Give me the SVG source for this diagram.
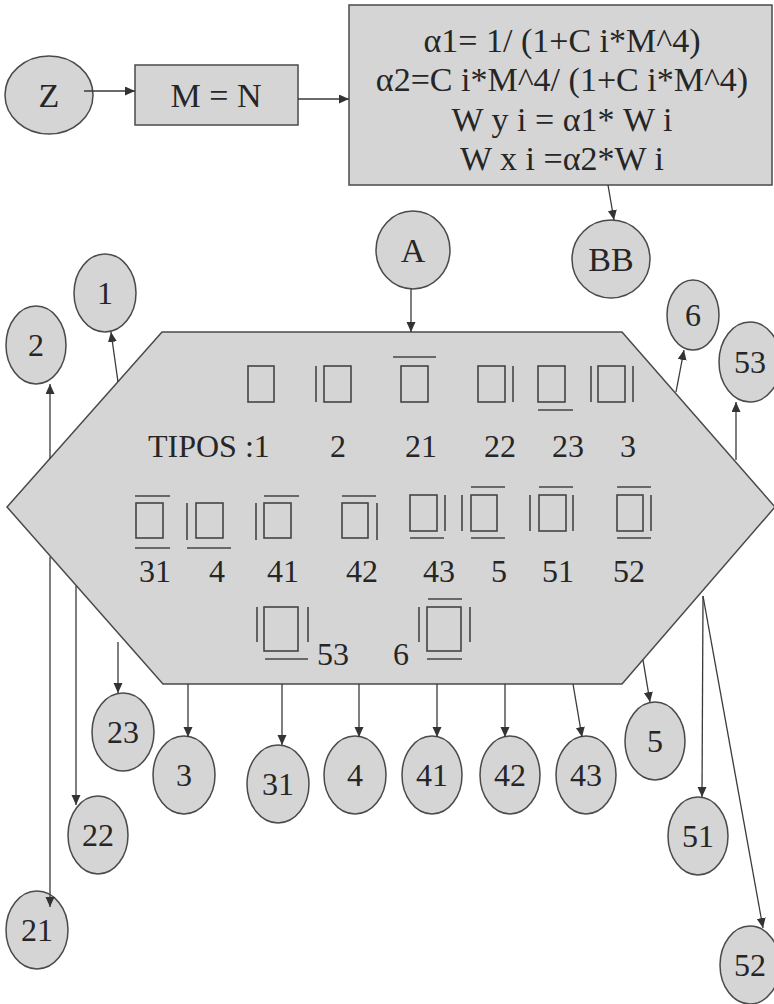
<svg xmlns="http://www.w3.org/2000/svg" width="774" height="1004" viewBox="0 0 774 1004">
<defs>
<marker id="ah" markerUnits="userSpaceOnUse" markerWidth="11" markerHeight="10" refX="10" refY="4.5" orient="auto">
<path d="M0,0 L10,4.5 L0,9 z" fill="#333"/>
</marker>
<style>
.nd{fill:#d5d5d5;stroke:#4a4a4a;stroke-width:1.5}
.t{font-family:"Liberation Serif","Times New Roman",serif;fill:#262626;text-anchor:middle}
.c{font-size:32px}
.b{font-size:34px}
.sym{fill:none;stroke:#444;stroke-width:1.6}
.cn line{stroke:#3a3a3a;stroke-width:1.3;marker-end:url(#ah)}
</style>
</defs>
<rect width="774" height="1004" fill="#fff"/>

<g id="hex">
<polygon class="nd" points="162,332 622,332 775,507 622,684 163,684 7,507"/>
<g class="sym">
<!-- row 1 -->
<rect x="248" y="366" width="26" height="36"/>
<line x1="316" y1="366" x2="316" y2="402"/><rect x="324" y="366" width="27" height="36"/>
<line x1="393" y1="357" x2="436" y2="357"/><rect x="401" y="366" width="27" height="36"/>
<rect x="478" y="366" width="27" height="36"/><line x1="513" y1="366" x2="513" y2="402"/>
<rect x="538" y="366" width="27" height="36"/><line x1="538" y1="410" x2="573" y2="410"/>
<line x1="591" y1="366" x2="591" y2="402"/><rect x="598" y="366" width="27" height="36"/><line x1="633" y1="366" x2="633" y2="402"/>
<!-- row 2 -->
<line x1="135" y1="496" x2="170" y2="496"/><rect x="136" y="503" width="27" height="35"/><line x1="135" y1="548" x2="170" y2="548"/>
<line x1="187" y1="503" x2="187" y2="540"/><rect x="196" y="503" width="27" height="35"/><line x1="187" y1="548" x2="231" y2="548"/>
<line x1="256" y1="503" x2="256" y2="540"/><line x1="264" y1="496" x2="299" y2="496"/><rect x="264" y="503" width="27" height="35"/>
<line x1="342" y1="496" x2="376" y2="496"/><rect x="342" y="503" width="26" height="35"/><line x1="377" y1="503" x2="377" y2="540"/>
<rect x="410" y="495" width="27" height="36"/><line x1="445" y1="495" x2="445" y2="531"/><line x1="410" y1="538" x2="444" y2="538"/>
<line x1="462" y1="495" x2="462" y2="531"/><line x1="471" y1="487" x2="505" y2="487"/><rect x="471" y="495" width="26" height="36"/><line x1="471" y1="538" x2="505" y2="538"/>
<line x1="530" y1="495" x2="530" y2="531"/><line x1="539" y1="487" x2="573" y2="487"/><rect x="539" y="495" width="27" height="36"/><line x1="573" y1="495" x2="573" y2="531"/>
<line x1="617" y1="487" x2="651" y2="487"/><rect x="617" y="495" width="26" height="36"/><line x1="651" y1="495" x2="651" y2="531"/><line x1="617" y1="538" x2="651" y2="538"/>
<!-- row 3 -->
<line x1="257" y1="607" x2="257" y2="642"/><rect x="264" y="607" width="34" height="44"/><line x1="308" y1="607" x2="308" y2="642"/><line x1="265" y1="659" x2="308" y2="659"/>
<line x1="419" y1="607" x2="419" y2="642"/><line x1="428" y1="599" x2="462" y2="599"/><rect x="427" y="607" width="34" height="44"/><line x1="470" y1="607" x2="470" y2="642"/><line x1="427" y1="659" x2="462" y2="659"/>
</g>
<g class="t c">
<text x="148" y="457" text-anchor="start">TIPOS :1</text>
<text x="338" y="457">2</text>
<text x="421" y="457">21</text>
<text x="500" y="457">22</text>
<text x="568" y="457">23</text>
<text x="628" y="457">3</text>
<text x="155" y="582">31</text>
<text x="217" y="582">4</text>
<text x="283" y="582">41</text>
<text x="362" y="582">42</text>
<text x="439" y="582">43</text>
<text x="499" y="582">5</text>
<text x="558" y="582">51</text>
<text x="629" y="582">52</text>
<text x="333" y="665">53</text>
<text x="401" y="665">6</text>
</g>
</g>

<g id="Z"><ellipse class="nd" cx="49" cy="95" rx="44" ry="39"/><text class="t b" x="49" y="107">Z</text></g>
<g id="MN"><rect class="nd" x="135" y="65" width="163" height="60"/><text class="t b" x="216" y="107">M = N</text></g>
<g id="formula"><rect class="nd" x="349" y="5" width="423" height="180"/>
<g class="t b">
<text x="562" y="52">α1= 1/ (1+C i*M^4)</text>
<text x="562" y="91">α2=C i*M^4/ (1+C i*M^4)</text>
<text x="562" y="131">W y i = α1* W i</text>
<text x="562" y="170">W x i =α2*W i</text>
</g></g>
<g id="A"><ellipse class="nd" cx="413" cy="250" rx="37" ry="39"/><text class="t b" x="413" y="262">A</text></g>
<g id="BB"><ellipse class="nd" cx="611" cy="259" rx="39" ry="39"/><text class="t b" x="611" y="271">BB</text></g>
<g id="n1"><ellipse class="nd" cx="105" cy="293" rx="31" ry="39"/><text class="t c" x="105" y="304">1</text></g>
<g id="n2"><ellipse class="nd" cx="36" cy="345" rx="30" ry="39"/><text class="t c" x="36" y="356">2</text></g>
<g id="n6"><ellipse class="nd" cx="693" cy="315" rx="26" ry="35"/><text class="t c" x="693" y="326">6</text></g>
<g id="n53"><ellipse class="nd" cx="750" cy="362" rx="31" ry="40"/><text class="t c" x="750" y="373">53</text></g>
<g id="n23"><ellipse class="nd" cx="123" cy="732" rx="31" ry="39"/><text class="t c" x="123" y="743">23</text></g>
<g id="n22"><ellipse class="nd" cx="98" cy="835" rx="30" ry="39"/><text class="t c" x="98" y="846">22</text></g>
<g id="n21"><ellipse class="nd" cx="37" cy="930" rx="31" ry="39"/><text class="t c" x="37" y="941">21</text></g>
<g id="n3"><ellipse class="nd" cx="184" cy="775" rx="31" ry="39"/><text class="t c" x="184" y="786">3</text></g>
<g id="n31"><ellipse class="nd" cx="278" cy="784" rx="31" ry="39"/><text class="t c" x="278" y="795">31</text></g>
<g id="n4"><ellipse class="nd" cx="355" cy="775" rx="31" ry="39"/><text class="t c" x="355" y="786">4</text></g>
<g id="n41"><ellipse class="nd" cx="432" cy="775" rx="30" ry="39"/><text class="t c" x="432" y="786">41</text></g>
<g id="n42"><ellipse class="nd" cx="510" cy="775" rx="30" ry="39"/><text class="t c" x="510" y="786">42</text></g>
<g id="n43"><ellipse class="nd" cx="586" cy="775" rx="30" ry="39"/><text class="t c" x="586" y="786">43</text></g>
<g id="n5"><ellipse class="nd" cx="655" cy="741" rx="30" ry="39"/><text class="t c" x="655" y="752">5</text></g>
<g id="n51"><ellipse class="nd" cx="698" cy="836" rx="30" ry="39"/><text class="t c" x="698" y="847">51</text></g>
<g id="n52"><ellipse class="nd" cx="750" cy="965" rx="30" ry="39"/><text class="t c" x="750" y="976">52</text></g>

<g id="connectors" class="cn">
<line x1="84" y1="91" x2="135" y2="91"/>
<line x1="298" y1="99" x2="349" y2="99"/>
<line x1="608" y1="185" x2="614" y2="220"/>
<line x1="411" y1="289" x2="411" y2="332"/>
<line x1="118" y1="382" x2="111" y2="332"/>
<line x1="50" y1="459" x2="50" y2="384"/>
<line x1="676" y1="392" x2="684" y2="350"/>
<line x1="736" y1="460" x2="736" y2="402"/>
<line x1="50" y1="557" x2="50" y2="907"/>
<line x1="76" y1="586" x2="76" y2="805"/>
<line x1="118" y1="642" x2="118" y2="693"/>
<line x1="188" y1="684" x2="188" y2="737"/>
<line x1="282" y1="684" x2="282" y2="745"/>
<line x1="359" y1="684" x2="359" y2="737"/>
<line x1="437" y1="684" x2="437" y2="737"/>
<line x1="505" y1="684" x2="505" y2="737"/>
<line x1="573" y1="684" x2="582" y2="737"/>
<line x1="643" y1="660" x2="650" y2="702"/>
<line x1="703" y1="596" x2="702" y2="797"/>
<line x1="703" y1="596" x2="763" y2="928"/>
</g>
</svg>
